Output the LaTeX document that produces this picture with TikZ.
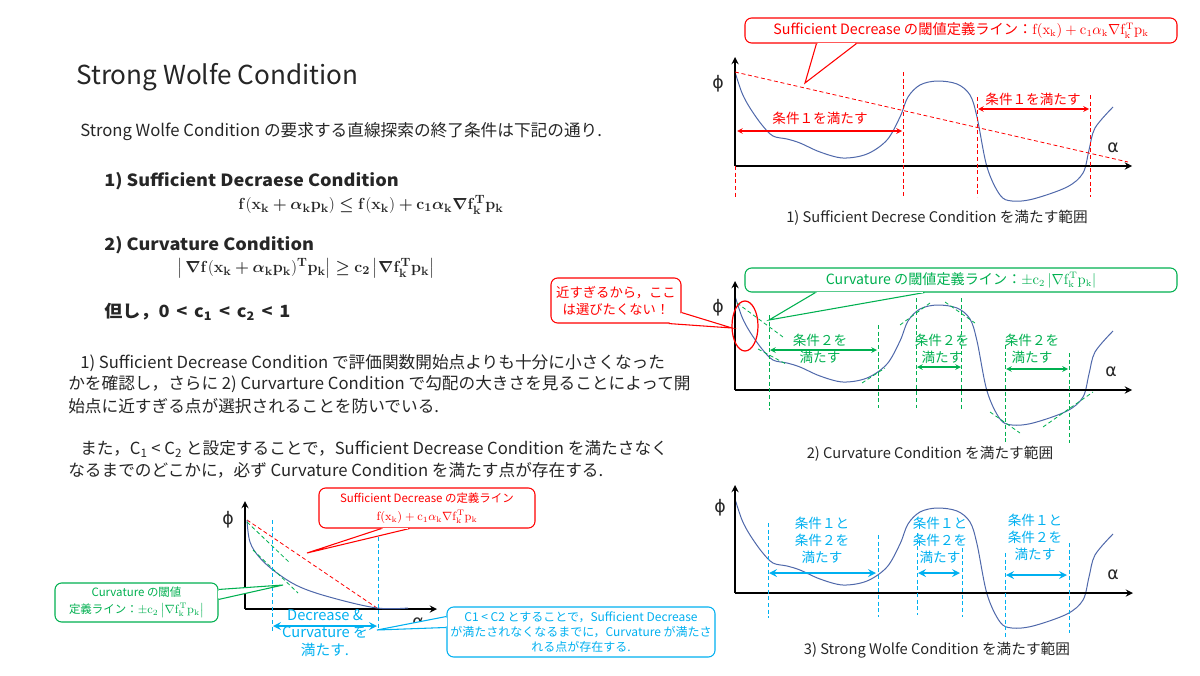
\documentclass[tikz,border=0pt]{standalone}
\usepackage{amsmath}
\usepackage[no-math]{fontspec}
\setmainfont{Noto Sans CJK JP}
\newfontfamily\headfont{Noto Sans CJK JP}[FakeStretch=1.08]
\newfontfamily\greekfont{DejaVu Sans}
\usetikzlibrary{calc}

\definecolor{inkgray}{HTML}{262626}
\definecolor{sdred}{HTML}{FF0000}
\definecolor{cvgreen}{HTML}{00B050}
\definecolor{swblue}{HTML}{00B0F0}
\definecolor{curveblue}{HTML}{4F68AA}

\newcommand{\bodyfont}{\fontsize{12.5}{15}\selectfont}
\newcommand{\notefont}{\fontsize{10.2}{12.8}\selectfont}
\newcommand{\tinyfont}{\fontsize{9}{11.25}\selectfont}
\newcommand{\eqfont}{\fontsize{12.5}{15}\selectfont}
\newcommand{\ltsp}{\hspace{0.4em}<\hspace{0.4em}}
% formulas
\newcommand{\bal}{\boldsymbol{\alpha}}
\newcommand{\bnab}{\boldsymbol{\nabla}}
\newcommand{\sdrule}{$\mathbf{f}(\mathbf{x_k}\boldsymbol{+}\bal_{\mathbf{k}}\mathbf{p_k})\boldsymbol{\leq}\mathbf{f}(\mathbf{x_k})\boldsymbol{+}\mathbf{c_1}\bal_{\mathbf{k}}\bnab\mathbf{f_k^Tp_k}$}
\newcommand{\cvrule}{$\left|\,\bnab\mathbf{f}(\mathbf{x_k}\boldsymbol{+}\bal_{\mathbf{k}}\mathbf{p_k})^{\mathbf{T}}\mathbf{p_k}\right|\boldsymbol{\geq}\mathbf{c_2}\left|\bnab\mathbf{f_k^Tp_k}\right|$}
\newcommand{\sdline}{$\mathrm{f(x_k)+c_1}\alpha_{\mathrm{k}}\nabla\mathrm{f_k^Tp_k}$}
\newcommand{\cvline}{$\pm\mathrm{c_2}\left|\nabla\mathrm{f_k^Tp_k}\right|$}

\tikzset{
  txt/.style={anchor=west, inner sep=0pt, font=\bodyfont},
  headtxt/.style={anchor=west, inner sep=0pt, font=\headfont\fontsize{12.6}{15}\selectfont\bfseries},
  axisline/.style={line width=1.4pt, ->},
  philine/.style={draw=curveblue, line width=0.75pt},
  sdguide/.style={sdred, line width=0.6pt, dash pattern=on 3pt off 2pt},
  cvguide/.style={cvgreen, line width=0.6pt, dash pattern=on 3pt off 2pt},
  swguide/.style={swblue, line width=0.6pt, dash pattern=on 3pt off 2pt},
  span/.style={<->, line width=0.9pt},
  lbl/.style={font=\notefont, align=center, inner sep=0pt},
  greek/.style={font=\greekfont\fontsize{13}{13}\selectfont, inner sep=0pt},
  callbox/.style={draw=#1, text=#1, fill=white, rounded corners=5pt,
    line width=0.8pt, inner sep=0pt, align=center},
  rangenote/.style={font=\fontsize{11}{13}\selectfont, inner sep=0pt}
}

\begin{document}
\begin{tikzpicture}[x=0.75pt, y=-0.75pt, >=stealth, every node/.style={text=inkgray}]
  \useasboundingbox (0,0) rectangle (1200,675);

  % left column: text
  \node[txt, font=\fontsize{19.6}{23}\selectfont] (title) at (76,77) {Strong Wolfe Condition};
  \node[txt] (intro) at (80,132) {Strong Wolfe Condition の要求する直線探索の終了条件は下記の通り.};
  \node[headtxt] (headA) at (104,181) {1) Sufficient Decraese Condition};
  \node[inner sep=0pt, font=\eqfont] (eqA) at (371,205) {\sdrule};
  \node[headtxt] (headB) at (104,245) {2) Curvature Condition};
  \node[inner sep=0pt, font=\eqfont] (eqB) at (306,268) {\cvrule};
  \node[headtxt] (cond) at (104,312) {但し，0\ltsp c\textsubscript{1}\ltsp c\textsubscript{2}\ltsp 1};

  \node[txt] (explA) at (80,363) {1) Sufficient Decrease Condition で評価関数開始点よりも十分に小さくなった};
  \node[txt] (explB) at (68,384) {かを確認し，さらに 2) Curvarture Condition で勾配の大きさを見ることによって開};
  \node[txt] (explC) at (68,406) {始点に近すぎる点が選択されることを防いでいる.};
  \node[txt] (explD) at (80,449) {また，C\textsubscript{1} < C\textsubscript{2} と設定することで，Sufficient Decrease Condition を満たさなく};
  \node[txt] (explE) at (68,470) {なるまでのどこかに，必ず Curvature Condition を満たす点が存在する.};

  % the same phi curve in the three graphs on the right
  \foreach \gy in {166,390,593}
    \draw[philine, shift={(735,\gy)}] plot[smooth, tension=0.55] coordinates {
      (0,-94) (7,-73) (15,-58) (27,-41) (38,-30) (52,-27) (65,-23) (85,-14)
      (108,-8) (132,-12) (152,-26) (165,-49) (173,-69) (185,-81) (202,-85)
      (222,-82) (235,-71) (242,-49) (252,1) (265,29) (277,35) (298,33)
      (332,21) (348,7) (354,-16) (360,-38) (378,-59)};

  % graph 1: sufficient decrease
  \draw[axisline] (735,166) -- (1132,166);
  \draw[axisline] (735,166) -- (735,57);
  \node[greek] (phiA) at (718,84) {ϕ};
  \node[greek] (alA) at (1113,148) {α};
  \draw[sdguide] (735,72) -- (1128,162);
  \foreach \x/\t in {735/166, 903/72, 977/97, 1090/95}
    \draw[sdguide] (\x,\t) -- (\x,197);
  \draw[span, sdred] (737,131) -- (902,131);
  \draw[span, sdred] (978,109) -- (1089,109);
  \node[lbl, text=sdred] (okA) at (820,118) {条件１を満たす};
  \node[lbl, text=sdred] (okB) at (1033,99) {条件１を満たす};
  \node[callbox=sdred, font=\fontsize{10.7}{13}\selectfont, minimum width=324pt, minimum height=18.75pt] (sdA) at (961,30.5) {Sufficient Decrease の閾値定義ライン：\sdline};
  \coordinate (sdtipA) at (805,83);
  \draw[sdred, fill=white, line width=0.8pt] ([xshift=54pt]sdA.south west) -- (sdtipA) -- ([xshift=84pt]sdA.south west);
  \draw[white, line width=1.3pt, shorten <=0.8pt, shorten >=0.8pt] ([xshift=54pt]sdA.south west) -- ([xshift=84pt]sdA.south west);
  \node[rangenote] (capA) at (937,218) {1) Sufficient Decrese Condition を満たす範囲};

  % graph 2: curvature
  \draw[axisline] (735,390) -- (1132,390);
  \draw[axisline] (735,390) -- (735,281);
  \node[greek] (phiB) at (718,308) {ϕ};
  \node[greek] (alB) at (1111,372) {α};
  \foreach \x/\t/\b in {769/315/410, 878/325/408, 916/298/408, 961/298/410, 1005/345/443, 1069/353/443}
    \draw[cvguide] (\x,\t) -- (\x,\b);
  \foreach \xa/\ya/\xb/\yb in {737/303/783/337, 758/349/786/364, 862/383/885/368, 900/325/930/303,
      945/302/975/323, 990/412/1020/433, 1043/427/1093/392}
    \draw[cvguide] (\xa,\ya) -- (\xb,\yb);
  \draw[span, cvgreen] (770,350) -- (877,350);
  \draw[span, cvgreen] (917,367) -- (961,367);
  \draw[span, cvgreen] (1006,369) -- (1068,369);
  \node[lbl, text=cvgreen] (cvokA) at (820,349) {条件２を\\満たす};
  \node[lbl, text=cvgreen] (cvokB) at (942,349) {条件２を\\満たす};
  \node[lbl, text=cvgreen] (cvokC) at (1032,349) {条件２を\\満たす};
  \draw[sdred, line width=0.9pt] (745,326) ellipse [x radius=9.75pt, y radius=18.75pt];
  \node[callbox=cvgreen, font=\fontsize{10.6}{13}\selectfont, minimum width=324pt, minimum height=18pt] (cvA) at (961,280) {Curvature の閾値定義ライン：\cvline};
  \coordinate (cvtipA) at (769,320);
  \draw[cvgreen, fill=white, line width=0.8pt] ([xshift=53.25pt]cvA.south west) -- (cvtipA) -- ([xshift=135pt]cvA.south west);
  \draw[white, line width=1.3pt, shorten <=0.8pt, shorten >=0.8pt] ([xshift=53.25pt]cvA.south west) -- ([xshift=135pt]cvA.south west);
  \node[callbox=sdred, font=\fontsize{10}{12.75}\selectfont, minimum width=97.5pt, minimum height=33.75pt] (nearA) at (616,300.5) {近すぎるから，ここ\\は選びたくない！};
  \coordinate (neartip) at (732,328);
  \draw[sdred, fill=white, line width=0.8pt] ([xshift=-9.75pt]nearA.south east) -- (neartip) -- ([yshift=8.25pt]nearA.south east);
  \node[rangenote] (capB) at (930,454) {2) Curvature Condition を満たす範囲};

  % graph 3: strong wolfe
  \draw[axisline] (735,593) -- (1133,593);
  \draw[axisline] (735,593) -- (735,485);
  \node[greek] (phiC) at (720,508) {ϕ};
  \node[greek] (alC) at (1113,575) {α};
  \foreach \x/\t/\b in {768/523/618, 878/535/617, 917/533/615, 962/548/617, 1005/553/638, 1069/543/633}
    \draw[swguide] (\x,\t) -- (\x,\b);
  \draw[span, swblue, line width=1.6pt] (769,573) -- (876,573);
  \draw[span, swblue, line width=1.6pt] (918,573) -- (960,573);
  \draw[span, swblue, line width=1.6pt] (1006,575) -- (1067,575);
  \node[lbl, text=swblue] (swokA) at (822,540) {条件１と\\条件２を\\満たす};
  \node[lbl, text=swblue] (swokB) at (940,540) {条件１と\\条件２を\\満たす};
  \node[lbl, text=swblue] (swokC) at (1035,537) {条件１と\\条件２を\\満たす};
  \node[rangenote] (capC) at (937,650) {3) Strong Wolfe Condition を満たす範囲};

  % small graph bottom left
  \draw[axisline] (245,609) -- (437,609);
  \draw[axisline] (245,609) -- (245,501);
  \node[greek] (phiD) at (228,520) {ϕ};
  \node[greek] (alD) at (418,623) {α};
  \draw[sdguide] (247,520) -- (377,608);
  \draw[philine] plot[smooth, tension=0.6] coordinates {(247,520) (250,542) (260,558) (277,573)
    (300,587) (333,598) (377,608) (408,608)};
  \draw[cvguide] (247,522) -- (290,563);
  \draw[cvguide] (253,550) -- (298,593);
  \draw[swguide] (272,520) -- (272,633);
  \draw[swguide] (378,517) -- (378,630);
  \draw[span, swblue, line width=1.6pt] (273,626) -- (377,626);
  \node[lbl, text=swblue, font=\fontsize{11}{13.1}\selectfont] (bothA) at (325,633) {Decrease \&\\Curvature を\\満たす.};
  \node[callbox=sdred, font=\fontsize{8.6}{14}\selectfont, minimum width=162pt, minimum height=30pt] (sdB) at (427,508) {Sufficient Decrease の定義ライン\\\sdline};
  \coordinate (sdtipB) at (307,553);
  \draw[sdred, fill=white, line width=0.8pt] ([xshift=47.25pt]sdB.south west) -- (sdtipB) -- ([xshift=68.25pt]sdB.south west);
  \draw[white, line width=1.3pt, shorten <=0.8pt, shorten >=0.8pt] ([xshift=47.25pt]sdB.south west) -- ([xshift=68.25pt]sdB.south west);
  \node[callbox=swblue, font=\tinyfont, minimum width=201pt, minimum height=37.5pt] (swA) at (581,632) {C1 < C2 とすることで，Sufficient Decrease\\が満たされなくなるまでに，Curvature が満たさ\\れる点が存在する.};
  \coordinate (swtip) at (377,630);
  \draw[swblue, fill=white, line width=0.8pt] ([yshift=-7.5pt]swA.north west) -- (swtip) -- ([yshift=-15.75pt]swA.north west);
  \draw[white, line width=1.3pt, shorten <=0.8pt, shorten >=0.8pt] ([yshift=-7.5pt]swA.north west) -- ([yshift=-15.75pt]swA.north west);
  \node[callbox=cvgreen, font=\fontsize{8.6}{13}\selectfont, minimum width=122.25pt, minimum height=29.25pt] (cvB) at (136.5,602.5) {Curvature の閾値\\定義ライン：\cvline};
  \coordinate (cvtipB) at (283,585);
  \draw[cvgreen, fill=white, line width=0.8pt] ([yshift=-5.25pt]cvB.north east) -- (cvtipB) -- ([yshift=-12.75pt]cvB.north east);
  \draw[white, line width=1.3pt, shorten <=0.8pt, shorten >=0.8pt] ([yshift=-5.25pt]cvB.north east) -- ([yshift=-12.75pt]cvB.north east);
\end{tikzpicture}
\end{document}
